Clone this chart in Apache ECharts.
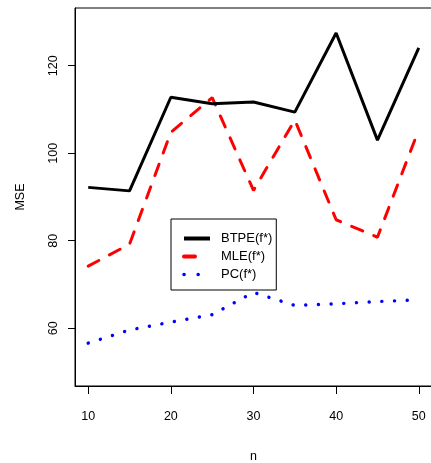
<!DOCTYPE html>
<html>
<head>
<meta charset="utf-8">
<script src="https://cdn.jsdelivr.net/npm/echarts@6/dist/echarts.min.js"></script>
<style>
html,body{margin:0;padding:0;background:#fff;}
#chart{width:431px;height:463px;}
</style>
</head>
<body>
<div id="chart"></div>
<script>
var nValues = [10, 15, 20, 25, 30, 35, 40, 45, 50];
var btpe = [92.2, 91.4, 112.8, 111.3, 111.7, 109.4, 127.5, 103.0, 124.1];
var mle = [74.2, 79.2, 104.8, 112.7, 91.5, 107.6, 84.8, 80.8, 105.4];
var pc = [56.6, 59.6, 61.4, 63.1, 68.2, 65.2, 65.6, 66.1, 66.5];
var xTicks = [10, 20, 30, 40, 50];
var yTicks = [60, 80, 100, 120];
var seriesNames = ['BTPE(f*)', 'MLE(f*)', 'PC(f*)'];

function pairs(vals) { return nValues.map(function (n, i) { return [n, vals[i]]; }); }

var font = 'Liberation Sans, Arial, sans-serif';
var chart = echarts.init(document.getElementById('chart'), null, { renderer: 'canvas' });
chart.setOption({
  animation: false,
  backgroundColor: '#fff',
  grid: { left: 75, top: 8, width: 357, height: 378, show: true, borderColor: '#000', borderWidth: 1, backgroundColor: 'transparent', outerBoundsMode: 'none', containLabel: false },
  xAxis: {
    type: 'value', min: 8.4, max: 51.6,
    name: 'n', nameLocation: 'middle', nameGap: 64,
    nameTextStyle: { color: '#000', fontSize: 12.5, fontFamily: font },
    axisLine: { show: true, lineStyle: { color: '#000', width: 1 } },
    axisTick: { show: true, length: 8, lineStyle: { color: '#000' }, customValues: xTicks },
    axisLabel: { color: '#000', fontSize: 12.5, fontFamily: font, margin: 24, customValues: xTicks },
    splitLine: { show: false }
  },
  yAxis: {
    type: 'value', min: 46.8, max: 133.2,
    name: 'MSE', nameLocation: 'middle', nameGap: 48,
    nameTextStyle: { color: '#000', fontSize: 12.5, fontFamily: font },
    axisLine: { show: true, lineStyle: { color: '#000', width: 1 } },
    axisTick: { show: true, length: 7, lineStyle: { color: '#000' }, customValues: yTicks },
    axisLabel: { color: '#000', fontSize: 12.5, fontFamily: font, margin: 15, rotate: 90, customValues: yTicks },
    splitLine: { show: false }
  },
  legend: {
    left: 171, top: 219,
    orient: 'vertical',
    selectedMode: false,
    backgroundColor: '#fff',
    borderColor: '#000', borderWidth: 1, borderRadius: 0,
    padding: [13, 4, 9, 11],
    itemWidth: 26, itemHeight: 14, itemGap: 5,
    itemStyle: { opacity: 0 },
    textStyle: { color: '#000', fontSize: 13, fontFamily: font, padding: [0, 0, 0, 6] },
    data: [
      { name: seriesNames[0], lineStyle: { width: 4, type: 'solid' } },
      { name: seriesNames[1], lineStyle: { width: 4, type: [11, 30], cap: 'round' } },
      { name: seriesNames[2], lineStyle: { width: 3.5, type: [0.1, 14], cap: 'round' } }
    ]
  },
  series: [
    { name: seriesNames[0], type: 'line', data: pairs(btpe), symbol: 'none', z: 3,
      lineStyle: { color: '#000', width: 3, type: 'solid' }, itemStyle: { color: '#000' } },
    { name: seriesNames[1], type: 'line', data: pairs(mle), symbol: 'none', z: 2,
      lineStyle: { color: '#ff0000', width: 3, type: [12, 12], cap: 'round' }, itemStyle: { color: '#ff0000' } },
    { name: seriesNames[2], type: 'line', data: pairs(pc), symbol: 'none', z: 2,
      lineStyle: { color: '#0000ff', width: 3.4, type: [0.1, 12.6], cap: 'round' }, itemStyle: { color: '#0000ff' } }
  ]
});
</script>
</body>
</html>
